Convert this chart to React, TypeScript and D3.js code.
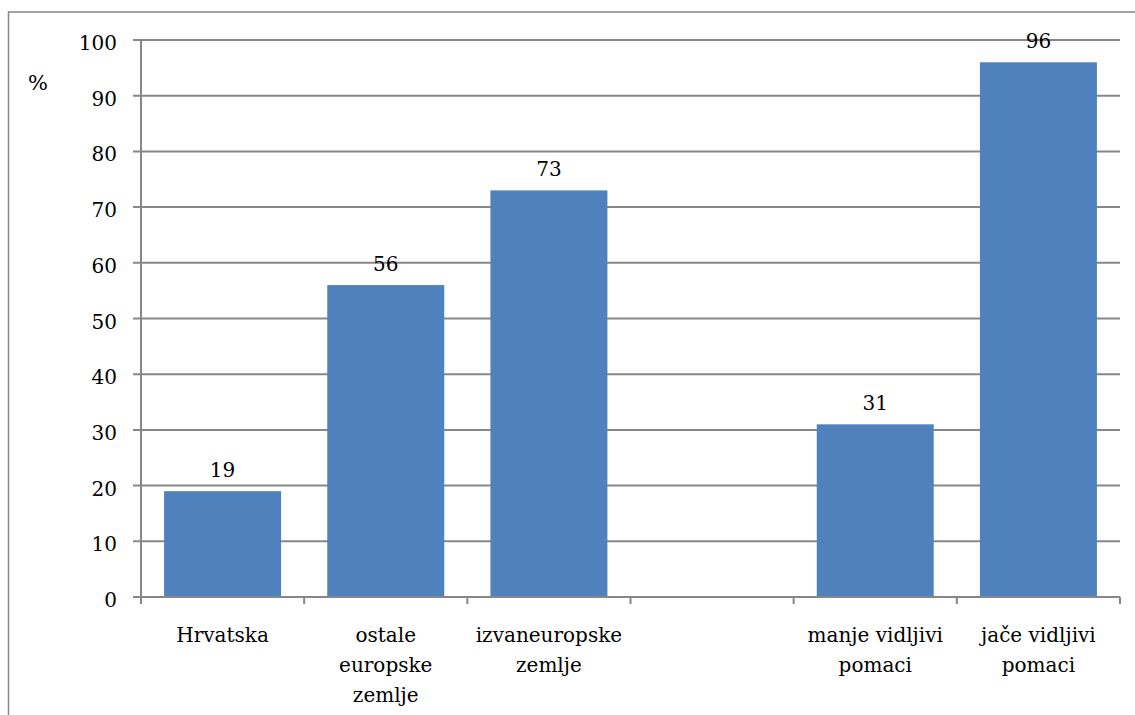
// App.tsx
// Stupčasti grafikon: D3 računa skale, React crta SVG elemente.

import * as d3 from 'd3';

const categories = [
  'Hrvatska',
  'ostale\neuropske\nzemlje',
  'izvaneuropske\nzemlje',
  '',
  'manje vidljivi\npomaci',
  'jače vidljivi\npomaci',
];
const values: (number | null)[] = [19, 56, 73, null, 31, 96];
const yTicks = [0, 10, 20, 30, 40, 50, 60, 70, 80, 90, 100];

const WIDTH = 1135;
const HEIGHT = 715;
const PLOT = { left: 141, right: 1120, top: 40, bottom: 597 };
const FONT = 'DejaVu Serif, serif';
const BAR = '#4F81BD';
const GRID = '#878787';
const NUM_SIZE = 20;
const CAT_SIZE = 20;

export default function App() {
  const x = d3
    .scaleBand<number>()
    .domain(d3.range(categories.length))
    .range([PLOT.left, PLOT.right])
    .paddingInner(0.283)
    .paddingOuter(0.1415);

  const y = d3.scaleLinear().domain([0, 100]).range([PLOT.bottom, PLOT.top]);

  const step = x.step();
  const boundaries = d3.range(categories.length + 1).map((i) => PLOT.left + i * step);

  return (
    <svg width={WIDTH} height={HEIGHT} style={{ position: 'absolute', left: 0, top: 0 }}>
      <g fontFamily={FONT} fill="#000">
        <rect x={8.5} y={12} width={WIDTH + 20} height={HEIGHT + 20} fill="#fff" stroke={GRID} strokeWidth={1.5} />

        {/* mreža i oznake osi y */}
        {yTicks.map((t) => (
          <g key={t}>
            <line x1={PLOT.left - 8} x2={PLOT.right} y1={y(t)} y2={y(t)} stroke={GRID} strokeWidth={2} />
            <text x={117} y={y(t) + 10} fontSize={NUM_SIZE} textAnchor="end">
              {t}
            </text>
          </g>
        ))}
        <line x1={PLOT.left} x2={PLOT.left} y1={PLOT.top} y2={PLOT.bottom + 7} stroke={GRID} strokeWidth={2} />
        <text x={38} y={90} fontSize={NUM_SIZE + 1} textAnchor="middle">
          %
        </text>

        {/* stupci */}
        {values.map((v, i) =>
          v == null ? null : (
            <g key={i}>
              <rect x={x(i)} y={y(v)} width={x.bandwidth()} height={y(0) - y(v)} fill={BAR} />
              <text x={(x(i) ?? 0) + x.bandwidth() / 2} y={y(v) - 14} fontSize={NUM_SIZE} textAnchor="middle">
                {v}
              </text>
            </g>
          )
        )}

        {/* os x */}
        <line x1={PLOT.left} x2={PLOT.right} y1={y(0)} y2={y(0)} stroke={GRID} strokeWidth={2} />
        {boundaries.map((bx, i) => (
          <line key={i} x1={bx} x2={bx} y1={y(0)} y2={y(0) + 7} stroke={GRID} strokeWidth={2} />
        ))}
        {categories.map((c, i) => (
          <text key={i} fontSize={CAT_SIZE} textAnchor="middle">
            {c.split('\n').map((line, j) => (
              <tspan key={j} x={(x(i) ?? 0) + x.bandwidth() / 2} y={642 + j * 30}>
                {line}
              </tspan>
            ))}
          </text>
        ))}
      </g>
    </svg>
  );
}
